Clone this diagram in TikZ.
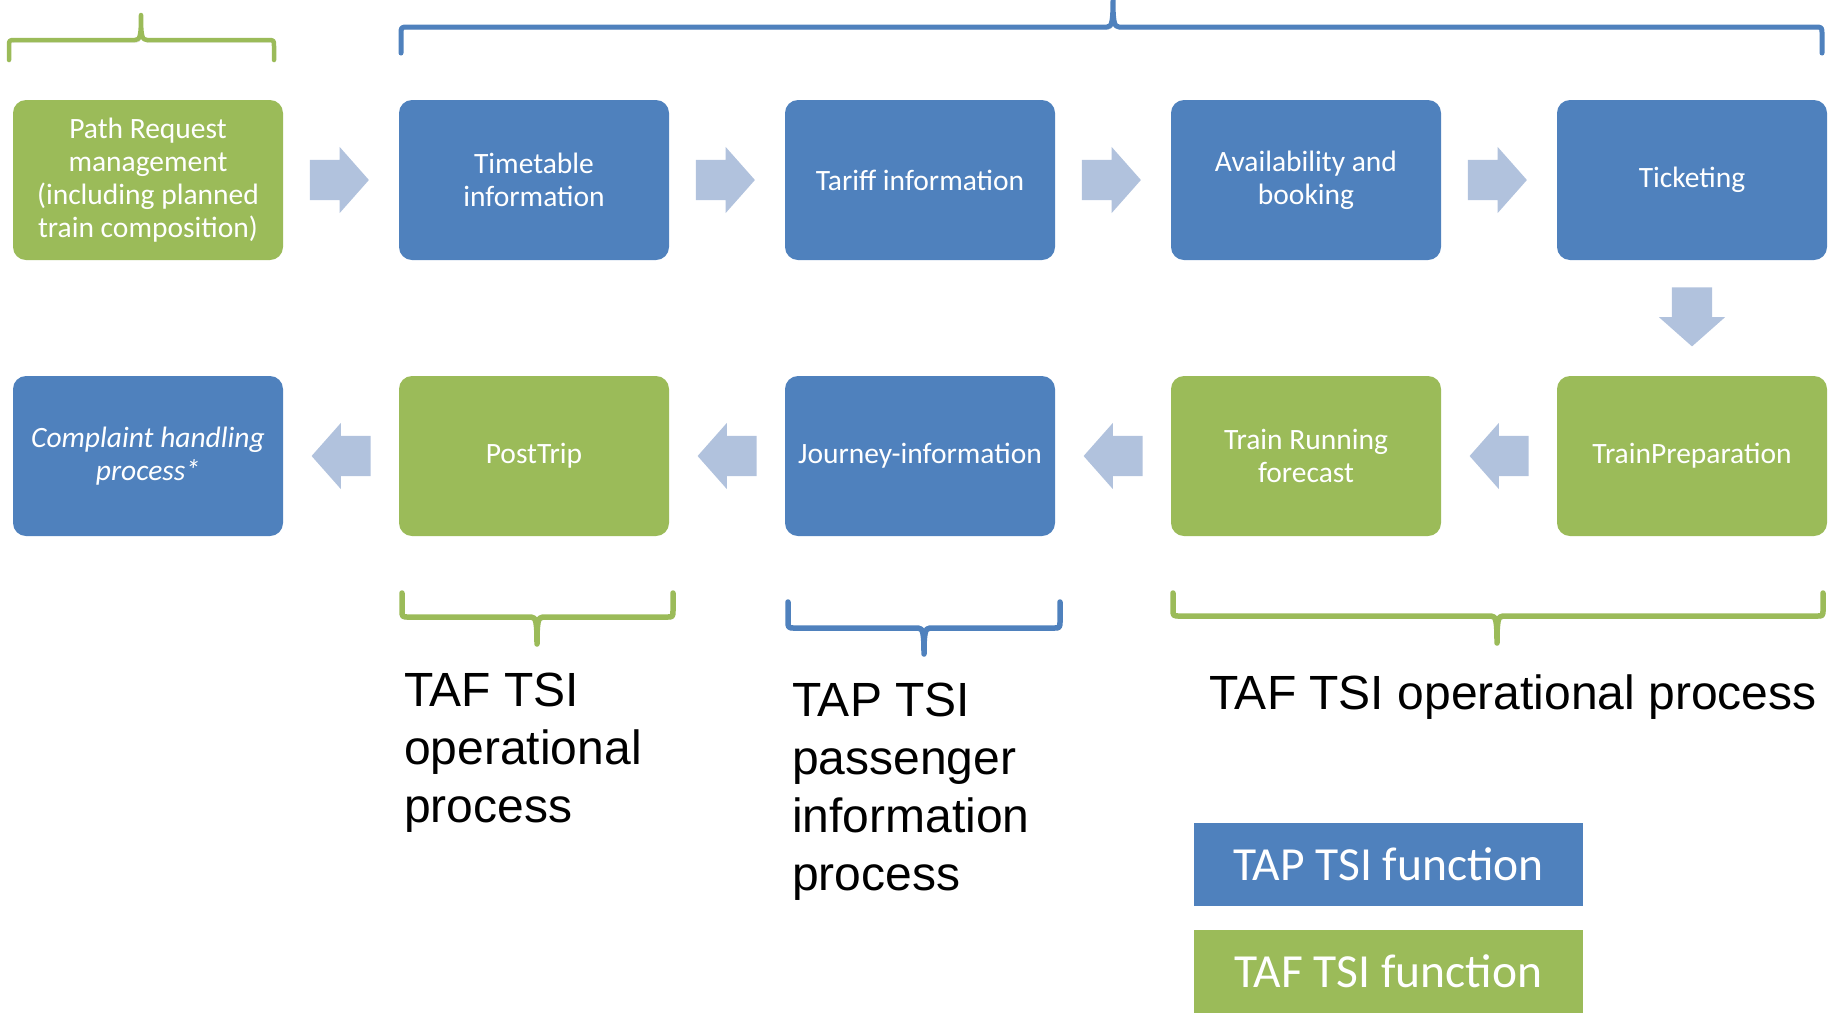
\documentclass[tikz,border=0pt]{standalone}
\usepackage{fontspec}
\setmainfont{Carlito}
\newfontfamily\arialf{Liberation Sans}
\usetikzlibrary{shapes.arrows,calc}
\definecolor{tapblue}{HTML}{4F81BD}
\definecolor{tafgreen}{HTML}{9BBB59}
\definecolor{arrowblue}{HTML}{B1C2DD}
\tikzset{
  fn/.style={rectangle, rounded corners=13pt, minimum width=270pt, minimum height=160pt,
    inner sep=0pt, text=white, align=center, font=\fontsize{29.5}{32.8}\selectfont},
  tap/.style={fn, fill=tapblue},
  taf/.style={fn, fill=tafgreen},
  flow/.style={single arrow, fill=arrowblue, draw=none, minimum height=59pt, minimum width=66pt,
    inner sep=20pt, single arrow head extend=13pt, single arrow tip angle=97, anchor=tail},
  lbl/.style={inner sep=0pt, anchor=north west, align=left, text=black,
    font=\arialf\fontsize{48}{58}\selectfont},
  legbox/.style={rectangle, minimum width=389pt, minimum height=83pt, inner sep=0pt,
    text=white, font=\fontsize{47.5}{56}\selectfont},
  brace/.style={line width=#1, line cap=round, line join=round,
    preaction={draw=black!35, opacity=0.45, transform canvas={shift={(1pt,-2.5pt)}}}},
}
% #1 style, #2 x1, #3 x2, #4 y of bar, #5 y of arm ends, #6 x of tip, #7 y of tip
\newcommand{\mybrace}[7]{%
  \draw[#1] (#2,#5) -- (#2,{#4+0.3*(#5-#4)}) .. controls (#2,#4) .. ({#2+7},#4)
    -- ({#6-6},#4) .. controls ({#6-1},#4) and (#6,{#4-0.2*(#5-#4)}) .. (#6,#7)
    .. controls (#6,{#4-0.2*(#5-#4)}) and ({#6+1},#4) .. ({#6+6},#4)
    -- ({#3-7},#4) .. controls (#3,#4) .. (#3,{#4+0.3*(#5-#4)}) -- (#3,#5);}
\begin{document}
\begin{tikzpicture}[x=1pt,y=-1pt]
\useasboundingbox (0,0) rectangle (1834,1013);

% row 1
\node[taf] (pr) at (148,180) {Path Request\\management\\(including planned\\train composition)};
\node[tap] (tt) at (534,180) {Timetable\\information};
\node[tap] (ti) at (920,180) {Tariff information};
\node[tap] (ab) at (1306,180) {Availability and\\booking};
\node[tap] (tk) at (1692,180) {Ticketing};
% row 2
\node[taf] (tp) at (1692,456) {TrainPreparation};
\node[taf] (tr) at (1306,456) {Train Running\\forecast};
\node[tap] (ji) at (920,456) {Journey-information};
\node[taf] (pt) at (534,456) {PostTrip};
\node[tap, font=\fontsize{29.5}{32.8}\selectfont\itshape] (ch) at (148,456) {Complaint handling\\process*};

% flow arrows
\node[flow] (a1) at ($(pr.east)+(26.5,0)$) {};
\node[flow] (a2) at ($(tt.east)+(26.5,0)$) {};
\node[flow] (a3) at ($(ti.east)+(26.5,0)$) {};
\node[flow] (a4) at ($(ab.east)+(26.5,0)$) {};
\node[flow, shape border rotate=270] (a5) at ($(tk.south)+(0,27)$) {};
\node[flow, shape border rotate=180] (a6) at ($(tp.west)+(-28,0)$) {};
\node[flow, shape border rotate=180] (a7) at ($(tr.west)+(-28,0)$) {};
\node[flow, shape border rotate=180] (a8) at ($(ji.west)+(-28,0)$) {};
\node[flow, shape border rotate=180] (a9) at ($(pt.west)+(-28,0)$) {};

% braces
\mybrace{brace=4.5pt, draw=tafgreen}{9}{274}{40}{60}{141}{15}
\mybrace{brace=5pt, draw=tapblue}{401}{1822}{27}{53}{1113}{-3}
\mybrace{brace=5.5pt, draw=tafgreen}{402}{673}{617}{593}{537}{644}
\mybrace{brace=5.5pt, draw=tapblue}{788}{1060}{628}{602}{924}{654}
\mybrace{brace=5.5pt, draw=tafgreen}{1173}{1823}{616}{593}{1497}{643}

% labels
\node[lbl] (l1) at (404,673) {TAF TSI\\operational\\process};
\node[lbl] (l2) at (792,683) {TAP TSI\\passenger\\information\\process};
\node[lbl] (l3) at (1209,675) {TAF TSI operational process};

% legend
\node[legbox, fill=tapblue] (lg1) at (1388.5,864.5) {TAP TSI function};
\node[legbox, fill=tafgreen] (lg2) at (1388.5,971.5) {TAF TSI function};
\end{tikzpicture}
\end{document}
